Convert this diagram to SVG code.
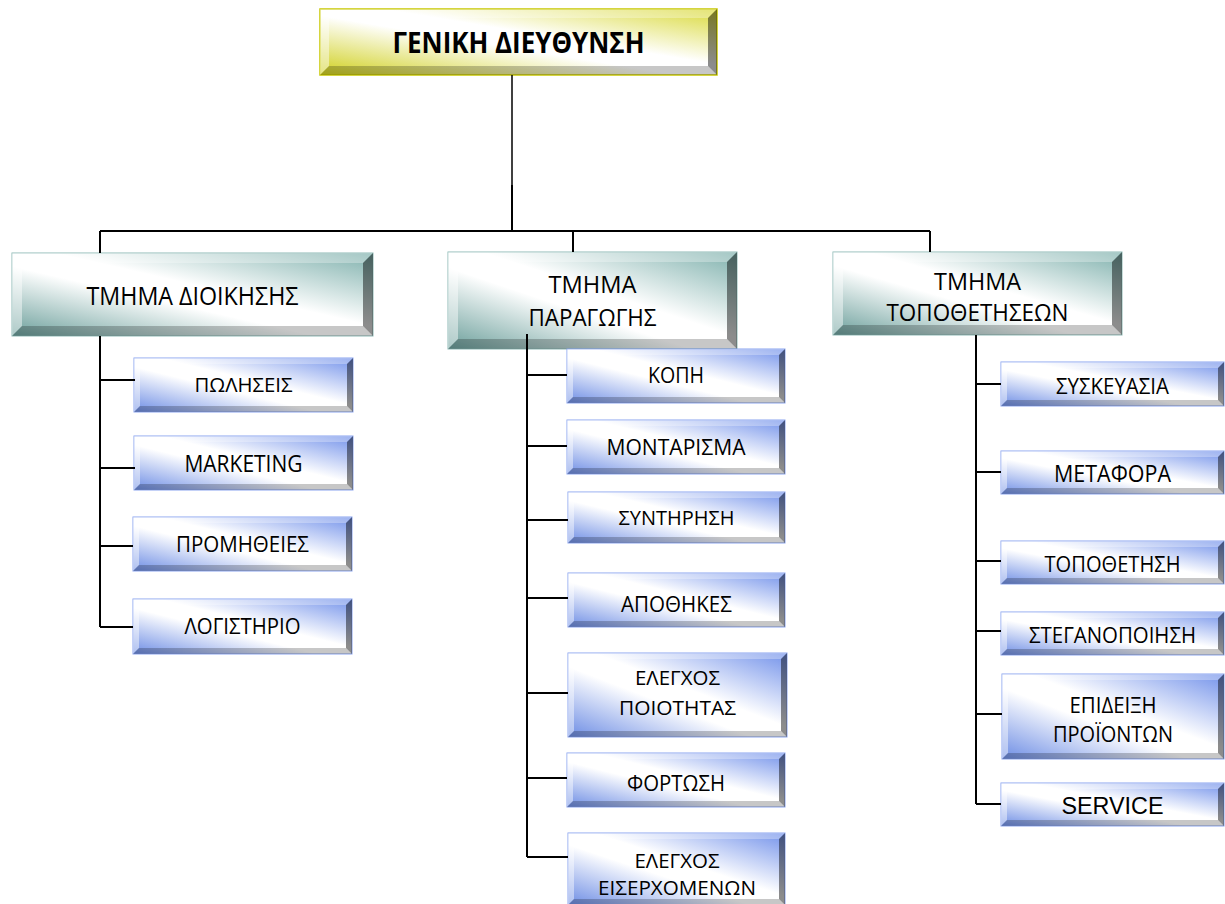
<svg xmlns="http://www.w3.org/2000/svg" width="1225" height="904" viewBox="0 0 1225 904">
  <defs>
    <linearGradient id="gYellow" x1="0" y1="1" x2="1" y2="0">
      <stop offset="0" stop-color="#cfcf1c"/>
      <stop offset="0.45" stop-color="#ffffff"/>
      <stop offset="0.58" stop-color="#ffffff"/>
      <stop offset="1" stop-color="#d9d93a"/>
    </linearGradient>
    <linearGradient id="gTeal" x1="0" y1="1" x2="1" y2="0">
      <stop offset="0" stop-color="#6a9e9a"/>
      <stop offset="0.42" stop-color="#ffffff"/>
      <stop offset="0.56" stop-color="#ffffff"/>
      <stop offset="1" stop-color="#7eb0ac"/>
    </linearGradient>
    <linearGradient id="gBlue" x1="0" y1="1" x2="1" y2="0">
      <stop offset="0" stop-color="#6c8ce4"/>
      <stop offset="0.42" stop-color="#ffffff"/>
      <stop offset="0.56" stop-color="#ffffff"/>
      <stop offset="1" stop-color="#7392ea"/>
    </linearGradient>
  </defs>
  <style>
    .yellow { fill: url(#gYellow); stroke: #c8c800; stroke-width: 1.5; }
    .teal { fill: url(#gTeal); stroke: #8dbab6; stroke-width: 1; }
    .blue { fill: url(#gBlue); stroke: #8aa4f0; stroke-width: 1; }
    .bt { fill: #ffffff; opacity: 0.3; }
    .bl { fill: #ffffff; opacity: 0.45; }
    .br { fill: #000000; opacity: 0.45; }
    .bb { fill: #000000; opacity: 0.22; }
    text { font-family: "Open Sans", "Noto Sans", "DejaVu Sans", sans-serif; fill: #000; text-anchor: middle; }
    .t0 { font-size: 28px; font-weight: bold; }
    .s25 { font-size: 25px; }
    .s23 { font-size: 23px; }
    .s22 { font-size: 22px; }
    .s21 { font-size: 21px; }
    .s20 { font-size: 20px; }
    .ts { font-family: "Liberation Sans", Arial, sans-serif; font-size: 23px; }
    .conn { fill: none; stroke: #000; stroke-width: 2; }
    .thin { stroke-width: 1.5; }
  </style>

  <!-- head office -->
  <g id="general-management">
    <rect class="yellow" x="320" y="9" width="397" height="66"/>
    <polygon class="bt" points="320,9 717,9 708,18 329,18"/>
    <polygon class="bl" points="320,9 329,18 329,66 320,75"/>
    <polygon class="br" points="717,9 717,75 708,66 708,18"/>
    <polygon class="bb" points="320,75 329,66 708,66 717,75"/>
    <text class="t0" x="518.5" y="53" textLength="252" lengthAdjust="spacingAndGlyphs">ΓΕΝΙΚΗ ΔΙΕΥΘΥΝΣΗ</text>
  </g>

  <!-- departments -->
  <g id="dept-admin">
    <rect class="teal" x="12" y="253" width="361" height="83"/>
    <polygon class="bt" points="12,253 373,253 363,263 22,263"/>
    <polygon class="bl" points="12,253 22,263 22,326 12,336"/>
    <polygon class="br" points="373,253 373,336 363,326 363,263"/>
    <polygon class="bb" points="12,336 22,326 363,326 373,336"/>
    <text class="s25" x="192.5" y="305" textLength="212" lengthAdjust="spacingAndGlyphs">ΤΜΗΜΑ ΔΙΟΙΚΗΣΗΣ</text>
  </g>
  <g id="dept-production">
    <rect class="teal" x="448" y="252" width="289" height="97"/>
    <polygon class="bt" points="448,252 737,252 727,262 458,262"/>
    <polygon class="bl" points="448,252 458,262 458,339 448,349"/>
    <polygon class="br" points="737,252 737,349 727,339 727,262"/>
    <polygon class="bb" points="448,349 458,339 727,339 737,349"/>
    <text class="s23" x="592.5" y="293" textLength="88" lengthAdjust="spacingAndGlyphs">ΤΜΗΜΑ</text>
    <text class="s23" x="592.5" y="326" textLength="128" lengthAdjust="spacingAndGlyphs">ΠΑΡΑΓΩΓΗΣ</text>
  </g>
  <g id="dept-installations">
    <rect class="teal" x="833" y="252" width="289" height="83"/>
    <polygon class="bt" points="833,252 1122,252 1112,262 843,262"/>
    <polygon class="bl" points="833,252 843,262 843,325 833,335"/>
    <polygon class="br" points="1122,252 1122,335 1112,325 1112,262"/>
    <polygon class="bb" points="833,335 843,325 1112,325 1122,335"/>
    <text class="s23" x="977.5" y="290" textLength="87" lengthAdjust="spacingAndGlyphs">ΤΜΗΜΑ</text>
    <text class="s23" x="977.5" y="321" textLength="182" lengthAdjust="spacingAndGlyphs">ΤΟΠΟΘΕΤΗΣΕΩΝ</text>
  </g>

  <!-- administration units -->
  <g id="sales">
    <rect class="blue" x="134" y="358" width="219" height="54"/>
    <polygon class="bt" points="134,358 353,358 347,364 140,364"/>
    <polygon class="bl" points="134,358 140,364 140,406 134,412"/>
    <polygon class="br" points="353,358 353,412 347,406 347,364"/>
    <polygon class="bb" points="134,412 140,406 347,406 353,412"/>
    <text class="s20" x="243.5" y="392" textLength="98" lengthAdjust="spacingAndGlyphs">ΠΩΛΗΣΕΙΣ</text>
  </g>
  <g id="marketing">
    <rect class="blue" x="134" y="436" width="219" height="54"/>
    <polygon class="bt" points="134,436 353,436 347,442 140,442"/>
    <polygon class="bl" points="134,436 140,442 140,484 134,490"/>
    <polygon class="br" points="353,436 353,490 347,484 347,442"/>
    <polygon class="bb" points="134,490 140,484 347,484 353,490"/>
    <text class="s23" x="243.5" y="472" textLength="118" lengthAdjust="spacingAndGlyphs">MARKETING</text>
  </g>
  <g id="procurement">
    <rect class="blue" x="133" y="517" width="219" height="54"/>
    <polygon class="bt" points="133,517 352,517 346,523 139,523"/>
    <polygon class="bl" points="133,517 139,523 139,565 133,571"/>
    <polygon class="br" points="352,517 352,571 346,565 346,523"/>
    <polygon class="bb" points="133,571 139,565 346,565 352,571"/>
    <text class="s21" x="242.5" y="552" textLength="133" lengthAdjust="spacingAndGlyphs">ΠΡΟΜΗΘΕΙΕΣ</text>
  </g>
  <g id="accounting">
    <rect class="blue" x="133" y="599" width="219" height="55"/>
    <polygon class="bt" points="133,599 352,599 346,605 139,605"/>
    <polygon class="bl" points="133,599 139,605 139,648 133,654"/>
    <polygon class="br" points="352,599 352,654 346,648 346,605"/>
    <polygon class="bb" points="133,654 139,648 346,648 352,654"/>
    <text class="s21" x="242.5" y="634" textLength="116" lengthAdjust="spacingAndGlyphs">ΛΟΓΙΣΤΗΡΙΟ</text>
  </g>

  <!-- production units -->
  <g id="cutting">
    <rect class="blue" x="567" y="349" width="218" height="54"/>
    <polygon class="bt" points="567,349 785,349 779,355 573,355"/>
    <polygon class="bl" points="567,349 573,355 573,397 567,403"/>
    <polygon class="br" points="785,349 785,403 779,397 779,355"/>
    <polygon class="bb" points="567,403 573,397 779,397 785,403"/>
    <text class="s22" x="676" y="383" textLength="56" lengthAdjust="spacingAndGlyphs">ΚΟΠΗ</text>
  </g>
  <g id="assembly">
    <rect class="blue" x="567" y="420" width="218" height="54"/>
    <polygon class="bt" points="567,420 785,420 779,426 573,426"/>
    <polygon class="bl" points="567,420 573,426 573,468 567,474"/>
    <polygon class="br" points="785,420 785,474 779,468 779,426"/>
    <polygon class="bb" points="567,474 573,468 779,468 785,474"/>
    <text class="s22" x="676" y="455" textLength="139" lengthAdjust="spacingAndGlyphs">ΜΟΝΤΑΡΙΣΜΑ</text>
  </g>
  <g id="maintenance">
    <rect class="blue" x="568" y="492" width="217" height="51"/>
    <polygon class="bt" points="568,492 785,492 779,498 574,498"/>
    <polygon class="bl" points="568,492 574,498 574,537 568,543"/>
    <polygon class="br" points="785,492 785,543 779,537 779,498"/>
    <polygon class="bb" points="568,543 574,537 779,537 785,543"/>
    <text class="s20" x="676.5" y="525" textLength="116" lengthAdjust="spacingAndGlyphs">ΣΥΝΤΗΡΗΣΗ</text>
  </g>
  <g id="warehouses">
    <rect class="blue" x="568" y="573" width="217" height="54"/>
    <polygon class="bt" points="568,573 785,573 779,579 574,579"/>
    <polygon class="bl" points="568,573 574,579 574,621 568,627"/>
    <polygon class="br" points="785,573 785,627 779,621 779,579"/>
    <polygon class="bb" points="568,627 574,621 779,621 785,627"/>
    <text class="s21" x="676.5" y="612" textLength="111" lengthAdjust="spacingAndGlyphs">ΑΠΟΘΗΚΕΣ</text>
  </g>
  <g id="quality-control">
    <rect class="blue" x="568" y="653" width="219" height="84"/>
    <polygon class="bt" points="568,653 787,653 781,659 574,659"/>
    <polygon class="bl" points="568,653 574,659 574,731 568,737"/>
    <polygon class="br" points="787,653 787,737 781,731 781,659"/>
    <polygon class="bb" points="568,737 574,731 781,731 787,737"/>
    <text class="s20" x="677.5" y="685" textLength="85" lengthAdjust="spacingAndGlyphs">ΕΛΕΓΧΟΣ</text>
    <text class="s20" x="677.5" y="715" textLength="117" lengthAdjust="spacingAndGlyphs">ΠΟΙΟΤΗΤΑΣ</text>
  </g>
  <g id="loading">
    <rect class="blue" x="567" y="753" width="218" height="54"/>
    <polygon class="bt" points="567,753 785,753 779,759 573,759"/>
    <polygon class="bl" points="567,753 573,759 573,801 567,807"/>
    <polygon class="br" points="785,753 785,807 779,801 779,759"/>
    <polygon class="bb" points="567,807 573,801 779,801 785,807"/>
    <text class="s21" x="676" y="791" textLength="98" lengthAdjust="spacingAndGlyphs">ΦΟΡΤΩΣΗ</text>
  </g>
  <g id="incoming-inspection">
    <rect class="blue" x="568" y="833" width="217" height="72"/>
    <polygon class="bt" points="568,833 785,833 779,839 574,839"/>
    <polygon class="bl" points="568,833 574,839 574,899 568,905"/>
    <polygon class="br" points="785,833 785,905 779,899 779,839"/>
    <polygon class="bb" points="568,905 574,899 779,899 785,905"/>
    <text class="s20" x="677" y="868" textLength="85" lengthAdjust="spacingAndGlyphs">ΕΛΕΓΧΟΣ</text>
    <text class="s20" x="677" y="895" textLength="158" lengthAdjust="spacingAndGlyphs">ΕΙΣΕΡΧΟΜΕΝΩΝ</text>
  </g>

  <!-- installation units -->
  <g id="packaging">
    <rect class="blue" x="1001" y="362" width="223" height="44"/>
    <polygon class="bt" points="1001,362 1224,362 1218,368 1007,368"/>
    <polygon class="bl" points="1001,362 1007,368 1007,400 1001,406"/>
    <polygon class="br" points="1224,362 1224,406 1218,400 1218,368"/>
    <polygon class="bb" points="1001,406 1007,400 1218,400 1224,406"/>
    <text class="s22" x="1112.5" y="394" textLength="113" lengthAdjust="spacingAndGlyphs">ΣΥΣΚΕΥΑΣΙΑ</text>
  </g>
  <g id="transport">
    <rect class="blue" x="1001" y="451" width="223" height="43"/>
    <polygon class="bt" points="1001,451 1224,451 1218,457 1007,457"/>
    <polygon class="bl" points="1001,451 1007,457 1007,488 1001,494"/>
    <polygon class="br" points="1224,451 1224,494 1218,488 1218,457"/>
    <polygon class="bb" points="1001,494 1007,488 1218,488 1224,494"/>
    <text class="s23" x="1112.5" y="482" textLength="117" lengthAdjust="spacingAndGlyphs">ΜΕΤΑΦΟΡΑ</text>
  </g>
  <g id="installation">
    <rect class="blue" x="1001" y="541" width="223" height="43"/>
    <polygon class="bt" points="1001,541 1224,541 1218,547 1007,547"/>
    <polygon class="bl" points="1001,541 1007,547 1007,578 1001,584"/>
    <polygon class="br" points="1224,541 1224,584 1218,578 1218,547"/>
    <polygon class="bb" points="1001,584 1007,578 1218,578 1224,584"/>
    <text class="s22" x="1112.5" y="572" textLength="136" lengthAdjust="spacingAndGlyphs">ΤΟΠΟΘΕΤΗΣΗ</text>
  </g>
  <g id="waterproofing">
    <rect class="blue" x="1001" y="612" width="223" height="43"/>
    <polygon class="bt" points="1001,612 1224,612 1218,618 1007,618"/>
    <polygon class="bl" points="1001,612 1007,618 1007,649 1001,655"/>
    <polygon class="br" points="1224,612 1224,655 1218,649 1218,618"/>
    <polygon class="bb" points="1001,655 1007,649 1218,649 1224,655"/>
    <text class="s22" x="1112.5" y="643" textLength="167" lengthAdjust="spacingAndGlyphs">ΣΤΕΓΑΝΟΠΟΙΗΣΗ</text>
  </g>
  <g id="product-demo">
    <rect class="blue" x="1002" y="674" width="222" height="85"/>
    <polygon class="bt" points="1002,674 1224,674 1218,680 1008,680"/>
    <polygon class="bl" points="1002,674 1008,680 1008,753 1002,759"/>
    <polygon class="br" points="1224,674 1224,759 1218,753 1218,680"/>
    <polygon class="bb" points="1002,759 1008,753 1218,753 1224,759"/>
    <text class="s21" x="1113" y="713" textLength="87" lengthAdjust="spacingAndGlyphs">ΕΠΙΔΕΙΞΗ</text>
    <text class="s21" x="1113" y="742" textLength="120" lengthAdjust="spacingAndGlyphs">ΠΡΟΪΟΝΤΩΝ</text>
  </g>
  <g id="service">
    <rect class="blue" x="1001" y="783" width="223" height="43"/>
    <polygon class="bt" points="1001,783 1224,783 1218,789 1007,789"/>
    <polygon class="bl" points="1001,783 1007,789 1007,820 1001,826"/>
    <polygon class="br" points="1224,783 1224,826 1218,820 1218,789"/>
    <polygon class="bb" points="1001,826 1007,820 1218,820 1224,826"/>
    <text class="ts" x="1112.5" y="814" textLength="102" lengthAdjust="spacingAndGlyphs">SERVICE</text>
  </g>

  <!-- connectors -->
  <g id="connectors">
    <path class="conn thin" d="M512,75 V186"/>
    <path class="conn" d="M512,185 V231 M100,231 H930 M100,231 V253 M573,231 V252 M930,231 V252"/>
    <path class="conn" d="M100,336 V627 M100,380 H135 M100,468 H135 M100,546 H133 M100,627 H133"/>
    <path class="conn" d="M527,334 V857 M527,375 H567 M527,446 H567 M527,520 H568 M527,598 H568 M527,693 H568 M527,778 H567 M527,857 H568"/>
    <path class="conn" d="M976,335 V804 M976,384 H1001 M976,472 H1001 M976,561 H1001 M976,631 H1001 M976,714 H1002 M976,804 H1001"/>
  </g>
</svg>
